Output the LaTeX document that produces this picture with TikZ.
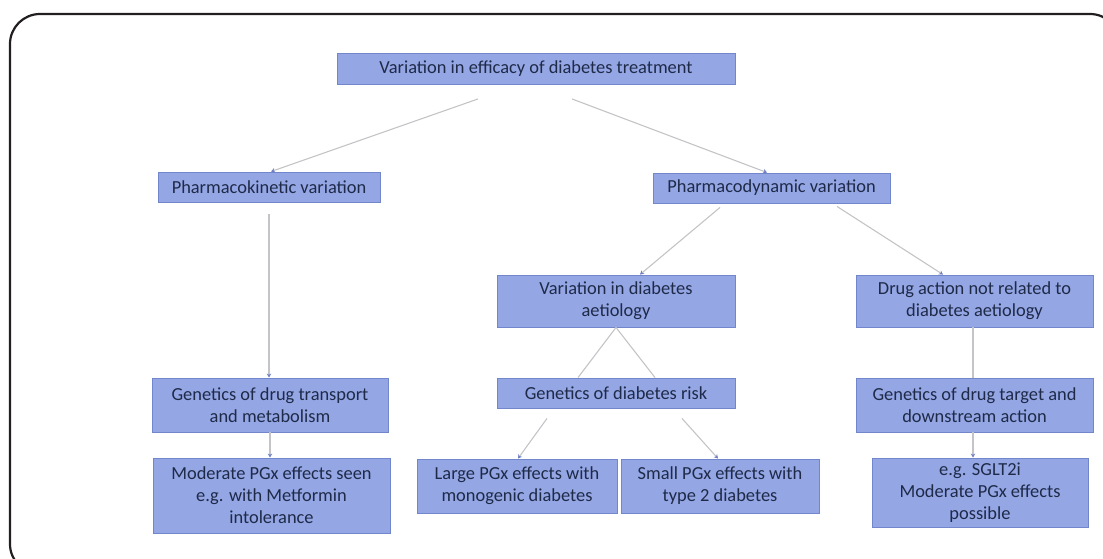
\documentclass[tikz,border=0pt]{standalone}
\usepackage{fontspec}
\setmainfont{Carlito}
\usetikzlibrary{arrows.meta}
\definecolor{boxfill}{HTML}{94A6E4}
\definecolor{boxline}{HTML}{7286CC}
\definecolor{boxtext}{HTML}{1E2A48}
\definecolor{linkgray}{HTML}{C4C4C8}
\definecolor{tipblue}{HTML}{6F7FC4}
\definecolor{frameline}{HTML}{231F20}
\tikzset{
  pgxBox/.style={draw=boxline, fill=boxfill, line width=0.9pt, text=boxtext,
    align=center, inner sep=2pt, font=\fontsize{18.4}{22}\selectfont},
  link/.style={draw=linkgray, line width=1.1pt,
    -{Stealth[length=4pt, width=4.5pt, color=tipblue]}},
  plainLink/.style={draw=linkgray, line width=1.1pt},
  frame/.style={draw=frameline, line width=2.2pt, rounded corners=30pt},
}

\begin{document}
\begin{tikzpicture}[x=1pt, y=-1pt]
  \useasboundingbox (0,0) rectangle (1103,558);
  \draw[frame] (10,14) rectangle (1120,574);

  % top level
  \node[pgxBox, minimum width=398pt, minimum height=31pt] (top) at (536,69)
    {Variation in efficacy of diabetes treatment};

  % second level
  \node[pgxBox, minimum width=222pt, minimum height=30pt] (pk) at (269,187)
    {Pharmacokinetic variation};
  \node[pgxBox, minimum width=237pt, minimum height=30pt] (pd) at (771.5,188)
    {Pharmacodynamic variation};

  % pharmacodynamic branches
  \node[pgxBox, minimum width=238pt, minimum height=52pt] (aet) at (616,301)
    {Variation in diabetes\\aetiology};
  \node[pgxBox, minimum width=237pt, minimum height=52pt] (act) at (974.5,301)
    {Drug action not related to\\diabetes aetiology};

  % genetics level
  \node[pgxBox, minimum width=236pt, minimum height=54pt] (trans) at (270,405)
    {Genetics of drug transport\\and metabolism};
  \node[pgxBox, minimum width=238pt, minimum height=30pt] (risk) at (616,393)
    {Genetics of diabetes risk};
  \node[pgxBox, minimum width=237pt, minimum height=54pt] (tgt) at (974.5,405)
    {Genetics of drug target and\\downstream action};

  % effects
  \node[pgxBox, minimum width=237pt, minimum height=75pt] (mod) at (271.5,495.5)
    {Moderate PGx effects seen\\e.g. with Metformin\\intolerance};
  \node[pgxBox, minimum width=200pt, minimum height=54pt] (large) at (517,486)
    {Large PGx effects with\\monogenic diabetes};
  \node[pgxBox, minimum width=198pt, minimum height=54pt] (small) at (720,486)
    {Small PGx effects with\\type 2 diabetes};
  \node[pgxBox, minimum width=216pt, minimum height=69pt] (sglt) at (980,492.5)
    {e.g. SGLT2i\\Moderate PGx effects\\possible};

  % connectors
  \draw[link] ([xshift=-58pt, yshift=-14pt]top.south) -- ([xshift=2pt]pk.north);
  \draw[link] ([xshift=36pt, yshift=-14pt]top.south) -- ([xshift=-4.5pt]pd.north);
  \draw[link] ([yshift=-12pt]pk.south) -- (pk.south |- trans.north);
  \draw[link] (trans.south) -- (trans.south |- mod.north);
  \draw[link] ([xshift=-51.5pt, yshift=-4pt]pd.south) -- ([xshift=24pt]aet.north);
  \draw[link] ([xshift=65.5pt, yshift=-3pt]pd.south) -- ([xshift=-31.5pt]act.north);
  \draw[plainLink] ([xshift=-38pt]risk.north) -- (aet.south) -- ([xshift=39pt]risk.north);
  \draw[link] ([xshift=-69pt, yshift=-10pt]risk.south) -- ([xshift=1pt]large.north);
  \draw[link] ([xshift=66pt, yshift=-10pt]risk.south) -- ([xshift=-2pt]small.north);
  \draw[plainLink] ([xshift=-1.5pt]act.south) -- ([xshift=-1.5pt]tgt.north);
  \draw[link] ([xshift=-1.5pt]tgt.south) -- ([xshift=-1.5pt]tgt.south |- sglt.north);
\end{tikzpicture}
\end{document}
